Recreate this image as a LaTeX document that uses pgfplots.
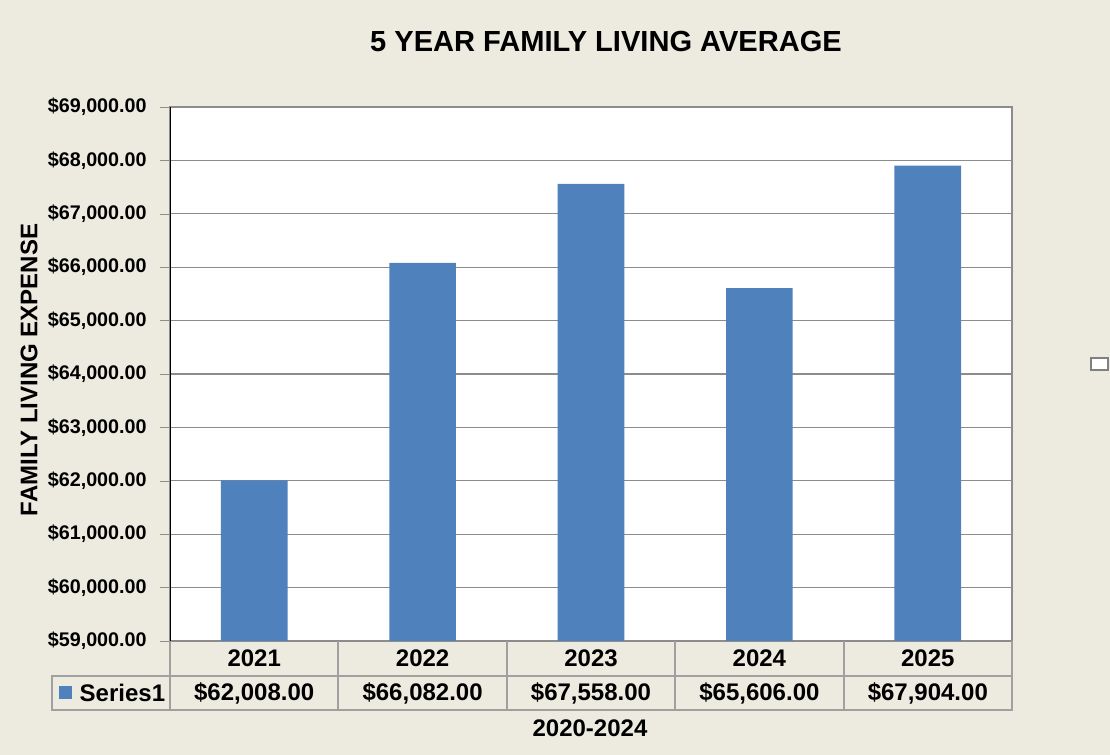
\documentclass[border=0pt]{standalone}
\usepackage{pgfplots}
\pgfplotsset{compat=1.18}
\usepackage{fontspec}
\setmainfont{Liberation Sans}
\definecolor{bgbeige}{HTML}{EDEAE0}
\definecolor{barblue}{HTML}{4F81BD}
\definecolor{gridgray}{HTML}{8C8C8C}
\definecolor{tablegray}{HTML}{A0A0A0}
\begin{document}
\begin{tikzpicture}[x=0.75pt, y=0.75pt, font=\bfseries]
% page background
\fill[bgbeige] (0,0) rectangle (1110,755);
\begin{axis}[
    at={(127.5pt,85.5pt)}, anchor=south west,
    scale only axis,
    width=631.5pt, height=400.5pt,
    ybar, bar width=50pt,
    xmin=-0.5, xmax=4.5,
    ymin=59000, ymax=69000,
    scaled y ticks=false,
    xtick=\empty,
    ytick pos=left,
    ytick={59000,60000,...,69000},
    yticklabels={{\$59,000.00},{\$60,000.00},{\$61,000.00},{\$62,000.00},{\$63,000.00},{\$64,000.00},{\$65,000.00},{\$66,000.00},{\$67,000.00},{\$68,000.00},{\$69,000.00}},
    yticklabel style={font=\fontsize{14.8}{17}\selectfont\bfseries, xshift=-6.5pt},
    ytick style={draw=gridgray},
    tick align=outside, major tick length=7.5pt,
    ymajorgrids, grid style={draw=gridgray, line width=0.8pt},
    axis line style={draw=gridgray, line width=1pt},
    axis background/.style={fill=white},
]
\addplot[fill=barblue, draw=none] coordinates {(0,62008) (1,66082) (2,67558) (3,65606) (4,67904)};
\draw[black, line width=1.2pt] (axis cs:-0.5,59000) -- (axis cs:-0.5,69000);
\end{axis}
% data table under the axis
\begin{scope}[tablegray, line width=1.5pt]
\draw (170,114) -- (170,45) -- (1012,45) -- (1012,114);
\draw (52,79) -- (1012,79);
\draw (52,79) rectangle (170,45);
\foreach \c in {338.4,506.8,675.2,843.6} \draw (\c,114) -- (\c,45);
\end{scope}
\fill[barblue] (59,69) rectangle (72,56);
\node[anchor=west, font=\fontsize{18}{20}\selectfont\bfseries] at (75,62) {Series1};
\foreach \yr [count=\i from 0] in {2021,2022,2023,2024,2025}
  \node[font=\fontsize{18}{20}\selectfont\bfseries] at (254.2+168.4*\i,96.5) {\yr};
\node[font=\fontsize{18}{20}\selectfont\bfseries] at (254.2,62) {\$62,008.00};
\node[font=\fontsize{18}{20}\selectfont\bfseries] at (422.6,62) {\$66,082.00};
\node[font=\fontsize{18}{20}\selectfont\bfseries] at (591.0,62) {\$67,558.00};
\node[font=\fontsize{18}{20}\selectfont\bfseries] at (759.4,62) {\$65,606.00};
\node[font=\fontsize{18}{20}\selectfont\bfseries] at (927.8,62) {\$67,904.00};
% titles
\node[font=\fontsize{21.8}{24}\selectfont\bfseries] at (606,713) {5 YEAR FAMILY LIVING AVERAGE};
\node[font=\fontsize{18}{20}\selectfont\bfseries, rotate=90] at (29,385) {FAMILY LIVING EXPENSE};
\node[font=\fontsize{18}{20}\selectfont\bfseries] at (590,27) {2020-2024};
% small empty legend box
\draw[fill=white, draw=gray, line width=1pt] (1091,397) rectangle (1108,385);
\end{tikzpicture}
\end{document}
